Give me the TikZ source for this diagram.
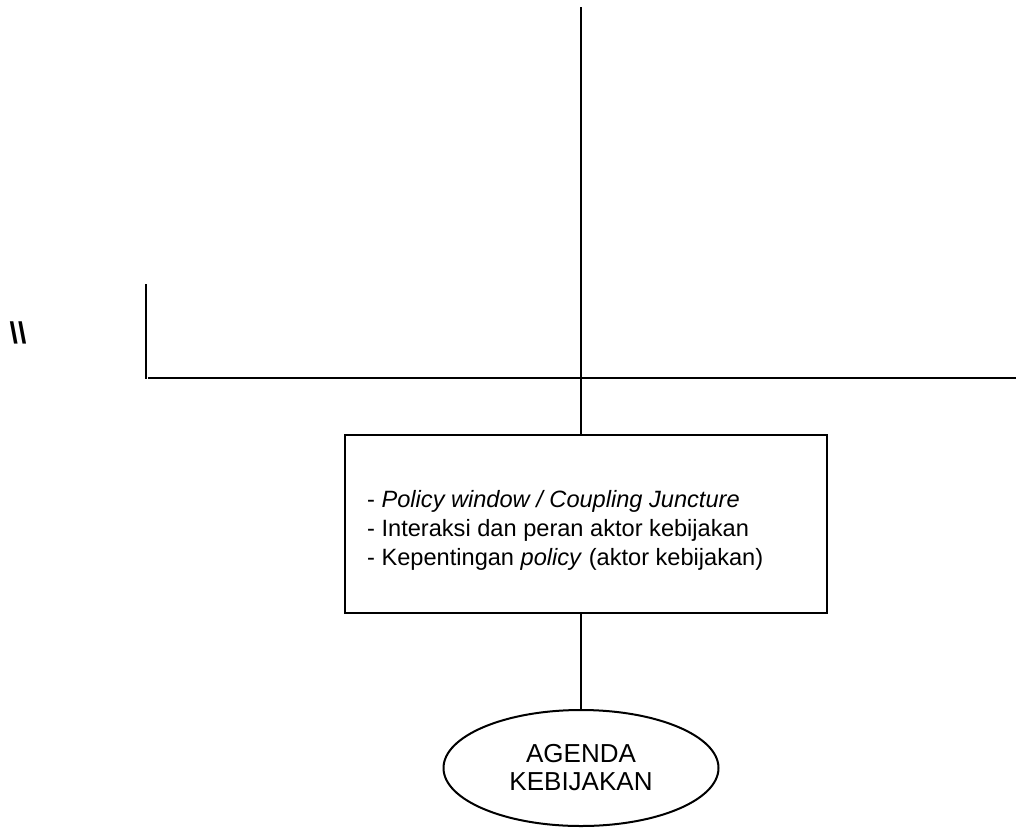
\documentclass[tikz,border=0pt]{standalone}
\usepackage{fontspec}
\setmainfont{Liberation Sans}
\usetikzlibrary{shapes.geometric}
\tikzset{
  thinline/.style={draw=black, line width=1.4pt},
  boxstyle/.style={draw=black, line width=2.2pt, rectangle, minimum width=482pt, minimum height=178pt, inner sep=0pt},
  ellstyle/.style={draw=black, line width=2pt, ellipse, minimum width=275pt, minimum height=116pt, inner sep=0pt, align=center, font=\fontsize{26}{28}\selectfont},
  boxtext/.style={inner sep=0pt, align=left, anchor=west, font=\fontsize{23.6}{29}\selectfont}
}
\begin{document}
\begin{tikzpicture}[x=1pt, y=-1pt]
\useasboundingbox (0,0) rectangle (1017,827);
\node[boxstyle] (box) at (586,524) {};
\node[boxtext] (lines) at (367,530) {- \textit{Policy window / Coupling Juncture}\\- Interaksi dan peran aktor kebijakan\\- Kepentingan \textit{policy} (aktor kebijakan)};
\node[ellstyle] (ell) at (581,768) {AGENDA\\KEBIJAKAN};
\node[inner sep=0pt, font=\fontsize{30}{32}\selectfont\bfseries] (bs) at (18,333) {\textbackslash\textbackslash};
\coordinate (top) at (581,7);
\coordinate (hl) at (148,378);
\coordinate (hr) at (1016,378);
\coordinate (vt) at (146,284);
\coordinate (vb) at (146,379);
\draw[thinline] (top) -- (top |- box.north);
\draw[thinline] (hl) -- (hr);
\draw[thinline] (vt) -- (vb);
\draw[thinline] (ell.north |- box.south) -- (ell.north);
\end{tikzpicture}
\end{document}
